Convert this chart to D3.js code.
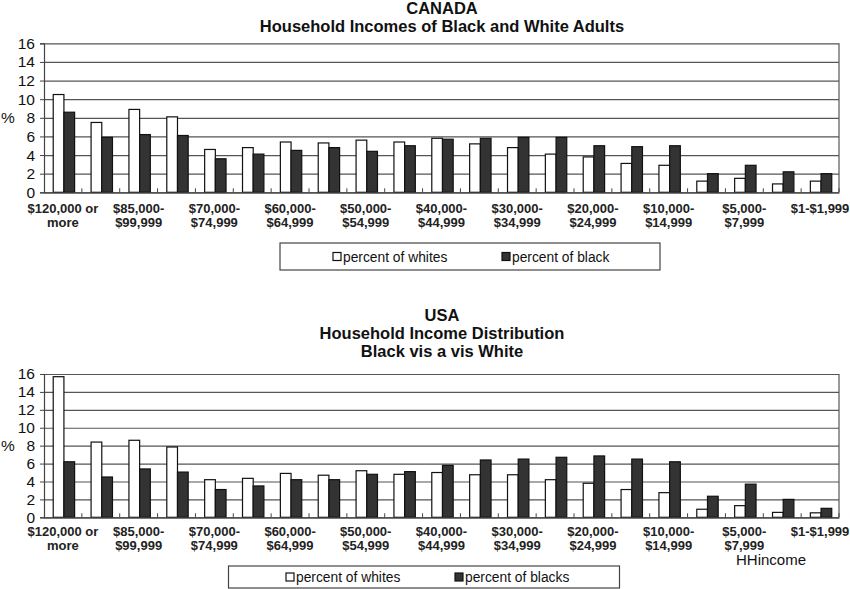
<!DOCTYPE html>
<html>
<head>
<meta charset="utf-8">
<script src="https://cdn.jsdelivr.net/npm/d3@7"></script>
<style>
  body { margin: 0; background: #fff; }
  svg { font-family: Arial, "Liberation Sans", sans-serif; }
</style>
</head>
<body>
<div id="chart"></div>
<script>
const categories = ["$120,000 or more", "$100,000-$119,999", "$85,000-$99,999", "$75,000-$84,999",
  "$70,000-$74,999", "$65,000-$69,999", "$60,000-$64,999", "$55,000-$59,999", "$50,000-$54,999",
  "$45,000-$49,999", "$40,000-$44,999", "$35,000-$39,999", "$30,000-$34,999", "$25,000-$29,999",
  "$20,000-$24,999", "$15,000-$19,999", "$10,000-$14,999", "$8,000-$9,999", "$5,000-$7,999",
  "$2,000-$4,999", "$1-$1,999"];

// shown tick labels (every other category), "|" = line break
const xTickLabels = ["$120,000 or|more", "", "$85,000-|$99,999", "", "$70,000-|$74,999", "",
  "$60,000-|$64,999", "", "$50,000-|$54,999", "", "$40,000-|$44,999", "", "$30,000-|$34,999", "",
  "$20,000-|$24,999", "", "$10,000-|$14,999", "", "$5,000-|$7,999", "", "$1-$1,999"];

const yTicks = [0, 2, 4, 6, 8, 10, 12, 14, 16];

const canadaWhites = [10.5, 7.5, 8.9, 8.1, 4.6, 4.8, 5.4, 5.3, 5.6, 5.4, 5.8, 5.2, 4.8, 4.1, 3.8, 3.1, 2.9, 1.2, 1.5, 0.9, 1.2];
const canadaBlacks = [8.6, 5.9, 6.2, 6.1, 3.6, 4.1, 4.5, 4.8, 4.4, 5.0, 5.7, 5.8, 5.9, 5.9, 5.0, 4.9, 5.0, 2.0, 2.9, 2.2, 2.0];

const usaWhites = [15.7, 8.4, 8.6, 7.85, 4.2, 4.35, 4.9, 4.7, 5.2, 4.8, 5.0, 4.75, 4.75, 4.2, 3.8, 3.1, 2.75, 0.9, 1.3, 0.55, 0.5];
const usaBlacks = [6.2, 4.5, 5.4, 5.05, 3.1, 3.5, 4.2, 4.2, 4.8, 5.1, 5.8, 6.4, 6.5, 6.7, 6.85, 6.5, 6.2, 2.35, 3.7, 2.0, 1.0];

const series = ["whites", "blacks"];
const fills = { whites: "#ffffff", blacks: "#333333" };

const W = 850, H = 589;
const svg = d3.select("#chart").append("svg").attr("width", W).attr("height", H);

function drawPanel(opt) {
  const L = 44, R = 839;
  const rows = categories.map((c, i) => ({ cat: c, whites: opt.whites[i], blacks: opt.blacks[i] }));

  const x0 = d3.scaleBand().domain(categories).range([L, R]);
  const x1 = d3.scaleBand().domain(series).range([0, x0.bandwidth()]).paddingOuter(0.77).align(0.56);
  const y = d3.scaleLinear().domain([0, 16]).range([opt.bottom, opt.top]);

  const g = svg.append("g");

  // titles
  g.selectAll("text.title")
    .data(opt.titles)
    .enter()
    .append("text")
    .attr("class", "title")
    .attr("x", 442)
    .attr("y", (d, i) => opt.titleY[i])
    .attr("text-anchor", "middle")
    .attr("font-weight", "bold")
    .attr("font-size", "16.5px")
    .attr("fill", "#111")
    .text(d => d);

  // grid
  g.append("g")
    .attr("transform", "translate(" + L + ",0)")
    .call(d3.axisLeft(y).tickValues(yTicks).tickSize(-(R - L)).tickFormat(""))
    .call(s => s.select(".domain").remove())
    .selectAll("line").attr("stroke", "#555").attr("stroke-width", 1.2);

  // right border
  g.append("line")
    .attr("x1", R).attr("x2", R).attr("y1", y(16)).attr("y2", y(0))
    .attr("stroke", "#555").attr("stroke-width", 1.2);

  // bars
  const grp = g.selectAll("g.cat")
    .data(rows)
    .enter()
    .append("g")
    .attr("class", "cat")
    .attr("transform", d => "translate(" + x0(d.cat) + ",0)");

  grp.selectAll("rect")
    .data(d => series.map(k => ({ key: k, value: d[k] })))
    .enter()
    .append("rect")
    .attr("x", d => x1(d.key))
    .attr("width", x1.bandwidth())
    .attr("y", d => y(d.value))
    .attr("height", d => y(0) - y(d.value))
    .attr("fill", d => fills[d.key])
    .attr("stroke", "#111")
    .attr("stroke-width", 1.2);

  // y axis
  g.append("g")
    .attr("transform", "translate(" + L + ",0)")
    .call(d3.axisLeft(y).tickValues(yTicks).tickSize(4).tickPadding(5))
    .call(s => s.select(".domain").attr("stroke", "#444").attr("stroke-width", 1.2))
    .call(s => s.selectAll("line").attr("stroke", "#444"))
    .selectAll("text")
    .attr("font-size", "15.5px")
    .attr("fill", "#111")
    .attr("font-family", "Arial, 'Liberation Sans', sans-serif");

  g.append("text")
    .attr("x", 1).attr("y", y(8) + 5)
    .attr("font-size", "15.5px").attr("fill", "#111")
    .text("%");

  // x axis
  const xAxis = g.append("g")
    .attr("transform", "translate(0," + y(0) + ")")
    .call(d3.axisBottom(x0).tickSize(0).tickPadding(0).tickFormat(""));
  xAxis.select(".domain").attr("stroke", "#444").attr("stroke-width", 1.2);

  // boundary ticks (inside)
  g.selectAll("line.btick")
    .data(categories.slice(1).map(c => x0(c)).concat([R]))
    .enter()
    .append("line")
    .attr("class", "btick")
    .attr("x1", d => d).attr("x2", d => d)
    .attr("y1", y(0)).attr("y2", y(0) - 4)
    .attr("stroke", "#444");

  // category labels
  const lab = g.selectAll("text.xlab")
    .data(categories.map((c, i) => ({ cat: c, label: xTickLabels[i] })).filter(d => d.label))
    .enter()
    .append("text")
    .attr("class", "xlab")
    .attr("text-anchor", "middle")
    .attr("font-size", "13px")
    .attr("font-weight", "bold")
    .attr("fill", "#222");
  lab.selectAll("tspan")
    .data(d => d.label.split("|").map(t => ({ t: t, x: x0(d.cat) + x0.bandwidth() / 2 })))
    .enter()
    .append("tspan")
    .attr("x", d => d.x)
    .attr("y", (d, i) => opt.labelY + i * 14)
    .text(d => d.t);

  // legend
  const lg = opt.legend;
  g.append("rect")
    .attr("x", lg.x).attr("y", lg.y).attr("width", lg.w).attr("height", lg.h)
    .attr("fill", "#fff").attr("stroke", "#444").attr("stroke-width", 1.2);
  const items = g.selectAll("g.leg")
    .data(series)
    .enter()
    .append("g")
    .attr("class", "leg")
    .attr("transform", (d, i) => "translate(" + lg.itemX[i] + "," + (lg.y + lg.h / 2) + ")");
  items.append("rect")
    .attr("x", 0).attr("y", -4).attr("width", 8).attr("height", 8)
    .attr("fill", d => fills[d]).attr("stroke", "#111").attr("stroke-width", 1.2);
  items.append("text")
    .attr("x", 10).attr("y", 5)
    .attr("font-size", "13.8px").attr("fill", "#111")
    .text((d, i) => lg.labels[i]);
}

drawPanel({
  titles: ["CANADA", "Household Incomes of Black and White Adults"],
  titleY: [14, 31.5],
  whites: canadaWhites,
  blacks: canadaBlacks,
  top: 43.3,
  bottom: 192.3,
  labelY: 213,
  legend: { x: 280, y: 243, w: 380, h: 27, itemX: [333, 502], labels: ["percent of whites", "percent of black"] }
});

drawPanel({
  titles: ["USA", "Household Income Distribution", "Black vis a vis White"],
  titleY: [320.5, 339, 357],
  whites: usaWhites,
  blacks: usaBlacks,
  top: 374,
  bottom: 517.3,
  labelY: 536,
  legend: { x: 228.5, y: 566, w: 391, h: 22, itemX: [286, 455], labels: ["percent of whites", "percent of blacks"] }
});

svg.append("text")
  .attr("x", 771).attr("y", 565)
  .attr("text-anchor", "middle")
  .attr("font-size", "15px").attr("fill", "#111")
  .text("HHincome");
</script>
</body>
</html>
